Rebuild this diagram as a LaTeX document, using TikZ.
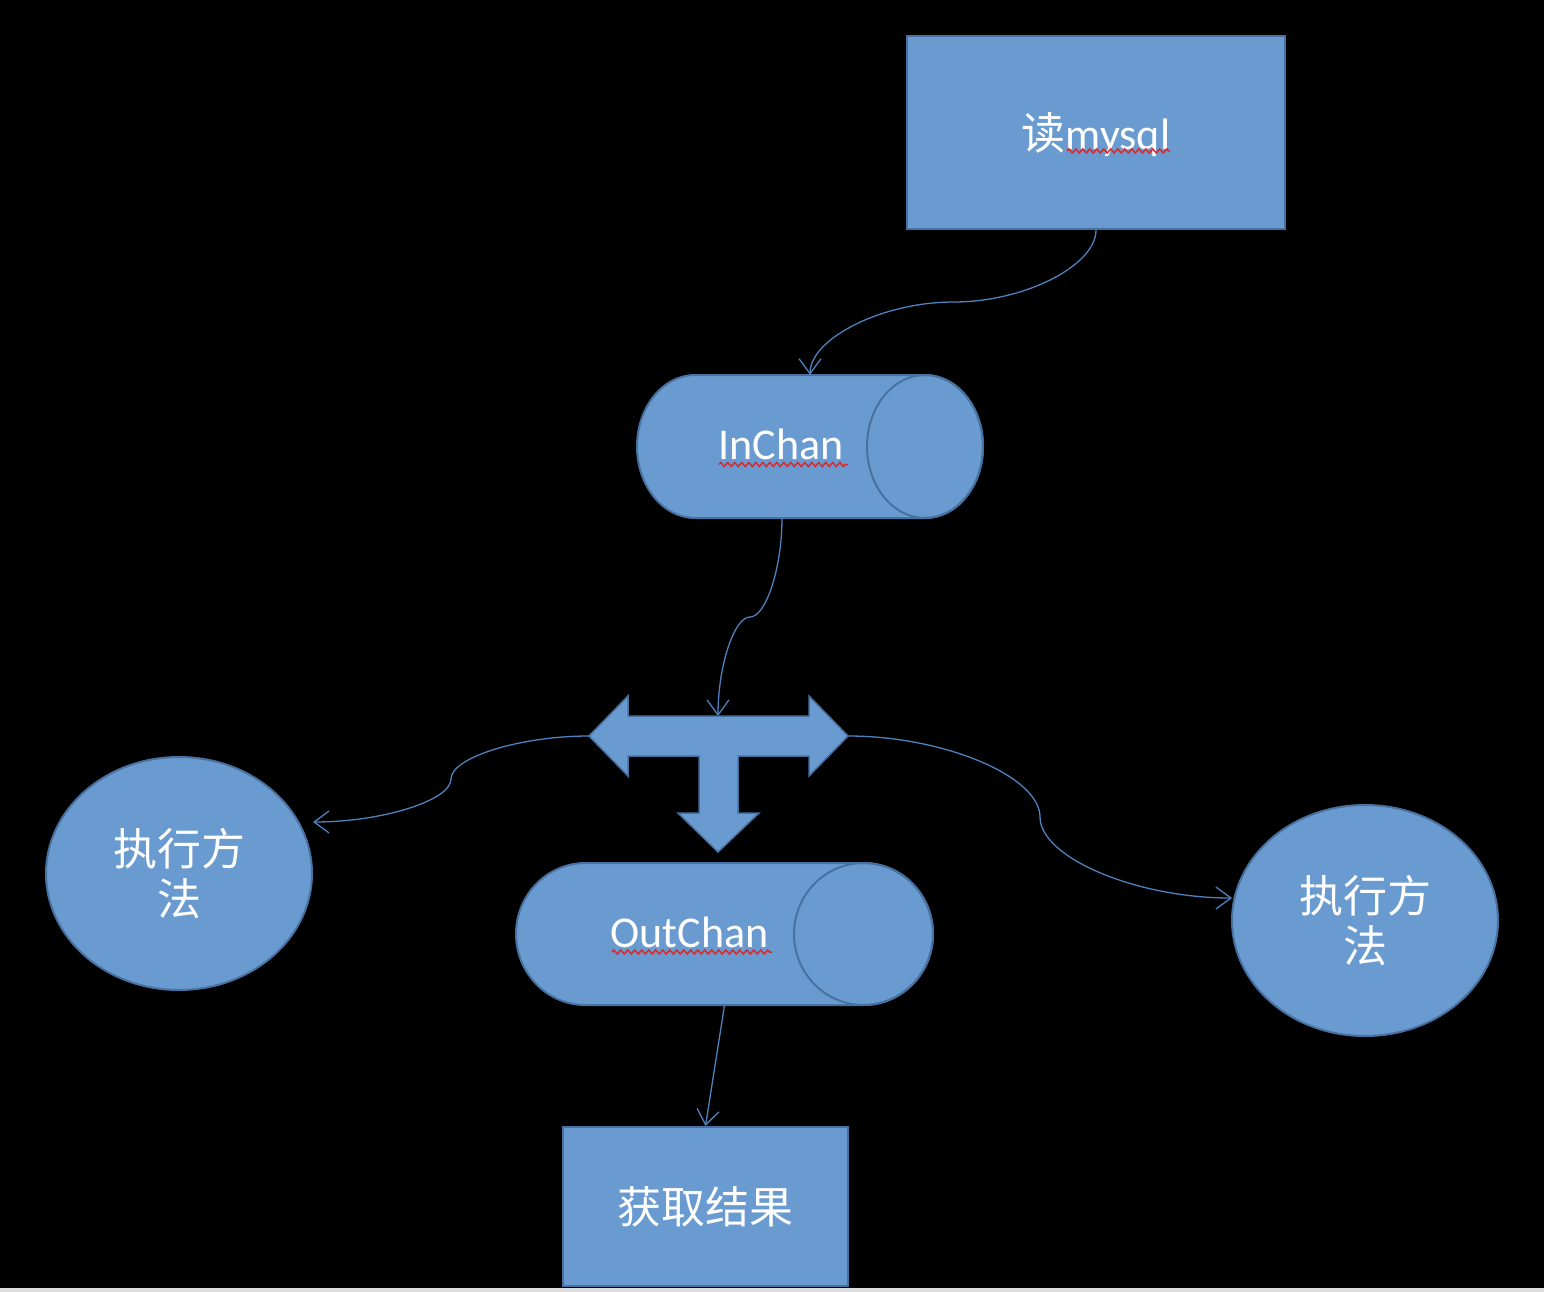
\documentclass[tikz,border=0pt]{standalone}
\usepackage{fontspec}
\setmainfont{Carlito}
\newfontfamily\cjk{Noto Sans CJK SC}
\usetikzlibrary{shapes.geometric,arrows.meta,decorations.pathmorphing}
\definecolor{shapefill}{RGB}{106,155,208}
\definecolor{shapeline}{RGB}{71,113,160}
\definecolor{connline}{RGB}{79,129,189}
\definecolor{stripgray}{RGB}{221,221,221}
\definecolor{spellred}{RGB}{220,40,40}
\begin{document}
\begin{tikzpicture}[x=1pt,y=1pt,
  shapestyle/.style={fill=shapefill,draw=shapeline,line width=2pt},
  conn/.style={draw=connline,line width=1.3pt,-{Straight Barb[length=15pt,width=22pt,line width=1.3pt]}},
  lbl/.style={text=white,font=\fontsize{44}{50}\selectfont,inner sep=0pt},
  cjklbl/.style={text=white,font=\fontsize{44}{50}\selectfont\cjk,align=center},
  wavy/.style={draw=spellred,line width=1.5pt,decorate,decoration={zigzag,segment length=7pt,amplitude=2pt}}]
\fill[black] (0,0) rectangle (1544,-1292);
\useasboundingbox (0,0) rectangle (1544,-1292);
\fill[stripgray] (0,-1288) rectangle (1544,-1292);

% top box
\node[shapestyle,rectangle,minimum width=378,minimum height=193,inner sep=0pt] (readbox) at (1096,-132.5) {};
\node[lbl,anchor=base] (readtxt) at (1096,-150) {{\cjk 读}mysql};

% InChan cylinder
\path[shapestyle] (695,-375) -- (925,-375) arc[start angle=90,end angle=-90,x radius=58,y radius=71.5]
  -- (695,-518) arc[start angle=270,end angle=90,x radius=58,y radius=71.5] -- cycle;
\draw[shapeline,line width=2pt] (925,-446.5) ellipse[x radius=58,y radius=71.5];
\node[minimum width=346,minimum height=143,inner sep=0pt] (inchan) at (810,-446.5) {};
\node[lbl,anchor=base] (inchantxt) at (781,-459) {InChan};

% T arrow
\path[shapestyle,line width=1.5pt] (589,-736) -- (628,-696) -- (628,-716) -- (809,-716) -- (809,-696)
  -- (848,-736) -- (809,-776) -- (809,-756) -- (738,-756) -- (738,-813) -- (759,-813)
  -- (718,-852) -- (678,-813) -- (699,-813) -- (699,-756) -- (628,-756) -- (628,-776) -- cycle;
\coordinate (tleft) at (589,-736);
\coordinate (tright) at (848,-736);
\coordinate (ttop) at (718,-716);

% OutChan cylinder
\path[shapestyle] (585.5,-863) -- (863.5,-863) arc[start angle=90,end angle=-90,x radius=69.5,y radius=71]
  -- (585.5,-1005) arc[start angle=270,end angle=90,x radius=69.5,y radius=71] -- cycle;
\draw[shapeline,line width=2pt] (863.5,-934) ellipse[x radius=69.5,y radius=71];
\node[minimum width=417,minimum height=142,inner sep=0pt] (outchan) at (724.5,-934) {};
\node[lbl,anchor=base] (outchantxt) at (689.5,-947) {OutChan};

% ellipses
\node[shapestyle,ellipse,minimum width=266,minimum height=233,inner sep=0pt,cjklbl] (leftexec) at (179,-873.5) {执行方\\法};
\node[shapestyle,ellipse,minimum width=266,minimum height=231,inner sep=0pt,cjklbl] (rightexec) at (1365,-920.5) {执行方\\法};

% bottom box
\node[shapestyle,rectangle,minimum width=285,minimum height=159,inner sep=0pt,cjklbl] (resultbox) at (705.5,-1206.5) {获取结果};

% spell-check underlines
\draw[wavy] (1067,-151) -- (1170,-151);
\draw[wavy] (719,-464.5) -- (848,-464.5);
\draw[wavy] (612,-952) -- (772,-952);

% connectors
\coordinate (m1) at (953.5,-302);
\coordinate (m2) at (750,-617);
\coordinate (m3) at (451,-779);
\coordinate (m4) at (1040,-817);
\coordinate (leftend) at (313,-822);
\coordinate (rightend) at (1232,-898);
\draw[conn] (readbox.south) .. controls (1096,-265.5) and (1024.75,-302) .. (m1)
  .. controls (882.25,-302) and (810,-338.5) .. (inchan.north);
\draw[conn] ([xshift=-28pt]inchan.south) .. controls (782,-567.5) and (766,-617) .. (m2)
  .. controls (734,-617) and (718,-666.5) .. (ttop);
\draw[conn] (tleft) .. controls (520,-736) and (451,-757.5) .. (m3)
  .. controls (451,-800.5) and (382,-822) .. (leftend);
\draw[conn] (tright) .. controls (944,-736) and (1040,-776.5) .. (m4)
  .. controls (1040,-857.5) and (1136,-898) .. (rightend);
\draw[conn] (outchan.south) -- (resultbox.north);
\end{tikzpicture}
\end{document}
